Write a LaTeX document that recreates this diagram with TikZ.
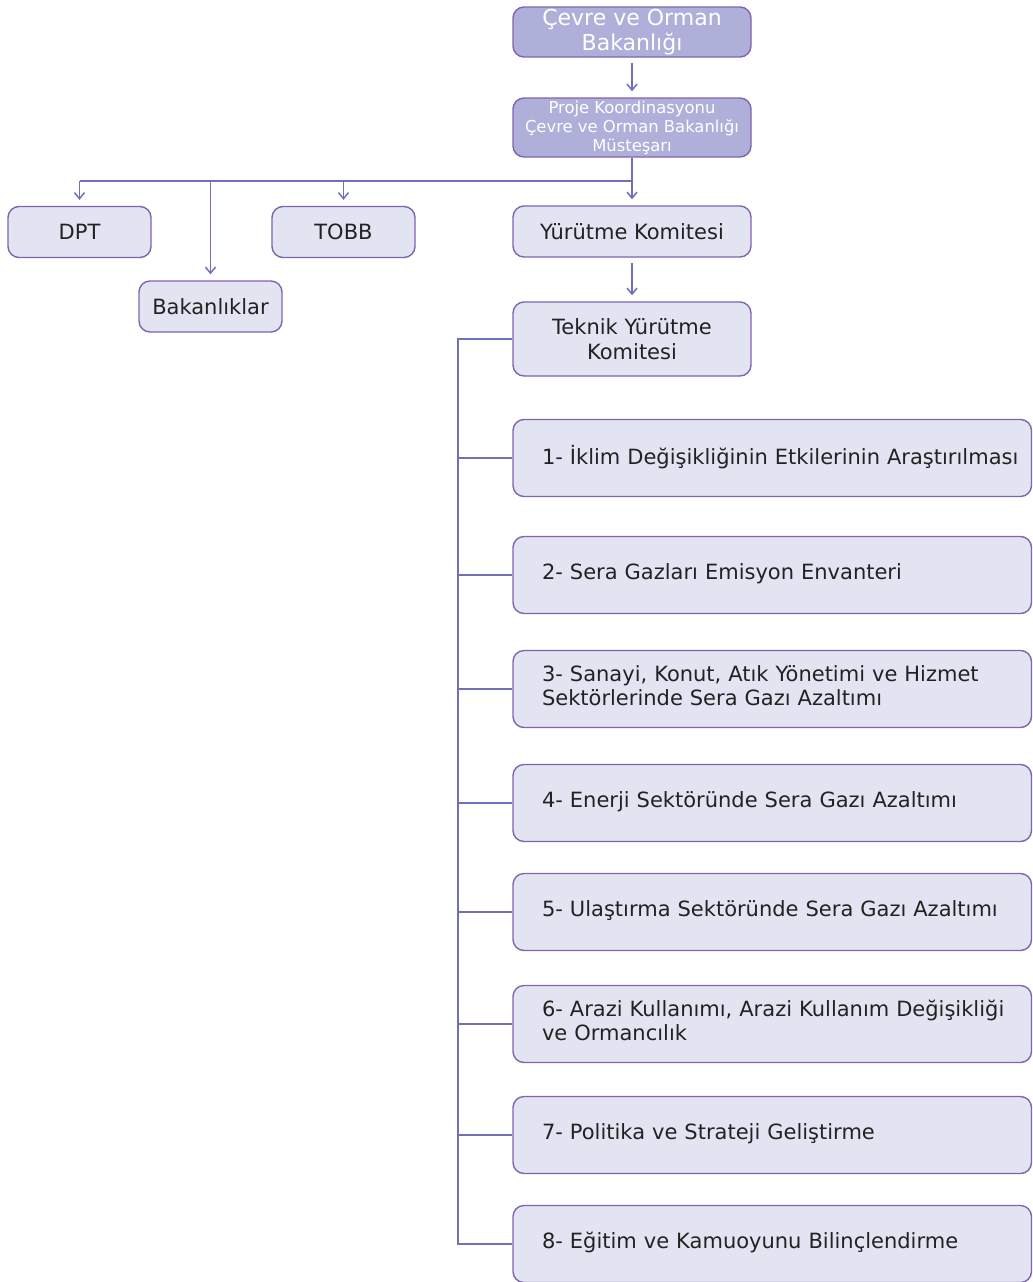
\documentclass[tikz,border=0pt]{standalone}
\usepackage{fontspec}
\setmainfont{DejaVu Sans}
\usetikzlibrary{arrows.meta}
\definecolor{bord}{HTML}{8064B0}
\definecolor{link}{HTML}{7070B8}
\definecolor{darkfill}{HTML}{AEB0DA}
\definecolor{lightfill}{HTML}{E3E4F2}
\definecolor{txt}{HTML}{222222}
\newcommand{\itemlines}[1]{\hspace*{29pt}\begin{tabular}{@{}l@{}}#1\end{tabular}}
\begin{document}
\begin{tikzpicture}[x=1pt,y=-1pt,
  box/.style={draw=bord, line width=1.4pt, rounded corners=11pt, fill=lightfill, text=txt,
    font=\fontsize{21}{25}\selectfont, align=center, inner sep=0pt},
  topbox/.style={box, fill=darkfill, text=white},
  smallbox/.style={box, minimum width=143pt, minimum height=51pt},
  midbox/.style={box, minimum width=238pt},
  itembox/.style={box, minimum height=77pt, text width=518.5pt, align=left,
    font=\fontsize{21}{24}\selectfont},
  conn/.style={draw=link, line width=1.5pt},
  arr/.style={conn, -{Straight Barb[length=6pt,width=10pt]}, shorten >=6pt, shorten <=5pt}
]
\useasboundingbox (0,0) rectangle (1033,1282);
\node[topbox, minimum width=238pt, minimum height=50pt, font=\fontsize{22}{25}\selectfont] (min) at (632,32) {Çevre ve Orman\\Bakanlığı};
\node[topbox, minimum width=238pt, minimum height=59pt, font=\fontsize{16.4}{19}\selectfont] (mus) at (632,127.5) {Proje Koordinasyonu\\Çevre ve Orman Bakanlığı\\Müsteşarı};
\node[smallbox] (dpt) at (79.5,232) {DPT};
\node[smallbox] (tobb) at (343.5,232) {TOBB};
\node[smallbox] (bak) at (210.5,306.5) {Bakanlıklar};
\node[midbox, minimum height=51pt] (yur) at (632,231.5) {Yürütme Komitesi};
\node[midbox, minimum height=74pt] (tek) at (632,339) {Teknik Yürütme\\Komitesi};

\node[itembox] (i1) at (772.25,458) {\itemlines{1- İklim Değişikliğinin Etkilerinin Araştırılması}};
\node[itembox] (i2) at (772.25,575) {\itemlines{2- Sera Gazları Emisyon Envanteri}};
\node[itembox] (i3) at (772.25,689) {\itemlines{3- Sanayi, Konut, Atık Yönetimi ve Hizmet\\Sektörlerinde Sera Gazı Azaltımı}};
\node[itembox] (i4) at (772.25,803) {\itemlines{4- Enerji Sektöründe Sera Gazı Azaltımı}};
\node[itembox] (i5) at (772.25,912) {\itemlines{5- Ulaştırma Sektöründe Sera Gazı Azaltımı}};
\node[itembox] (i6) at (772.25,1024) {\itemlines{6- Arazi Kullanımı, Arazi Kullanım Değişikliği\\ve Ormancılık}};
\node[itembox] (i7) at (772.25,1135) {\itemlines{7- Politika ve Strateji Geliştirme}};
\node[itembox] (i8) at (772.25,1244) {\itemlines{8- Eğitim ve Kamuoyunu Bilinçlendirme}};

\draw[arr] (min) -- (mus);
\coordinate (hb) at (632,181);
\draw[conn] (mus) -- (hb);
\draw[conn] (dpt.north |- hb) -- (hb);
\draw[arr, shorten <=0pt] (hb) -- (yur);
\draw[arr, shorten <=0pt] (dpt.north |- hb) -- (dpt);
\draw[arr, shorten <=0pt] (tobb.north |- hb) -- (tobb);
\draw[arr, shorten <=0pt] (bak.north |- hb) -- (bak);
\draw[arr] (yur) -- (tek);

\coordinate (sp) at (458,339);
\draw[conn] (tek.west) -- (sp) |- (i8.west);
\foreach \k in {1,...,7}{\draw[conn] (sp |- i\k.west) -- (i\k.west);}
\end{tikzpicture}
\end{document}
